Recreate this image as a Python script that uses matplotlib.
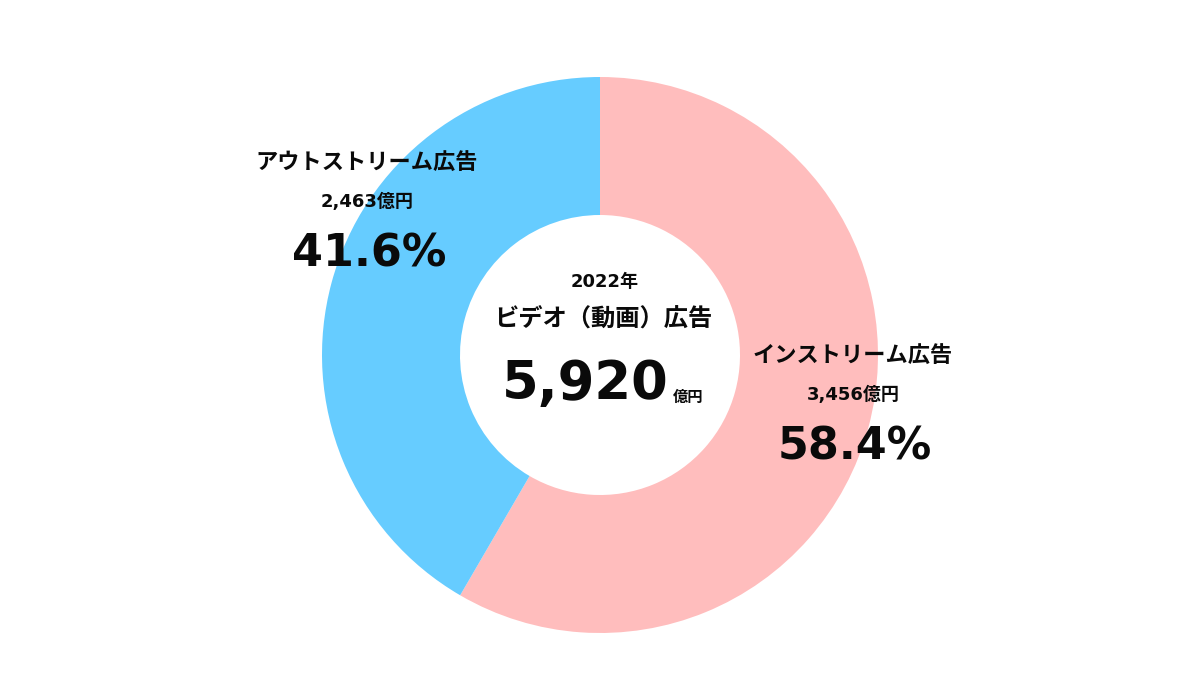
import matplotlib
matplotlib.use('Agg')
import matplotlib.pyplot as plt

plt.rcParams['font.family'] = ['DejaVu Sans', 'Noto Sans CJK JP']

# data
names = ['インストリーム広告', 'アウトストリーム広告']
values = [3456, 2463]
shares = [58.4, 41.6]
total = 5920
year = '2022年'
colors = ['#FFBDBD', '#66CCFF']

W, H = 1203, 700
fig = plt.figure(figsize=(W / 100, H / 100), dpi=100)
ax = fig.add_axes([0, 0, 1, 1])
ax.set_xlim(0, W)
ax.set_ylim(0, H)
ax.set_aspect('equal')
ax.axis('off')

cx, cy = 600, H - 355
ax.pie(values, colors=colors, startangle=90, counterclock=False,
       center=(cx, cy), radius=278,
       wedgeprops=dict(width=138, linewidth=0))
ax.set_xlim(0, W)
ax.set_ylim(0, H)

txt = dict(ha='center', va='center', color='#0a0a0a', fontweight='bold')

# center
ax.text(605, H - 282, year, fontsize=13, **txt)
ax.text(603, H - 320, 'ビデオ（動画）広告', fontsize=17.5, **txt)
ax.text(585, H - 384, f'{total:,}', fontsize=38, **txt)
ax.text(688, H - 397, '億円', fontsize=11, **txt)

# segment labels
label_pos = [(853, 355), (367, 162)]
for name, val, pct, (lx, ly) in zip(names, values, shares, label_pos):
    ax.text(lx, H - ly, name, fontsize=16, **txt)
    ax.text(lx, H - ly - 40, f'{val:,}億円', fontsize=13, **txt)
    ax.text(lx + 2, H - ly - 92, f'{pct:.1f}%', fontsize=32, **txt)

fig.savefig('out.png', dpi=100, facecolor='white')
